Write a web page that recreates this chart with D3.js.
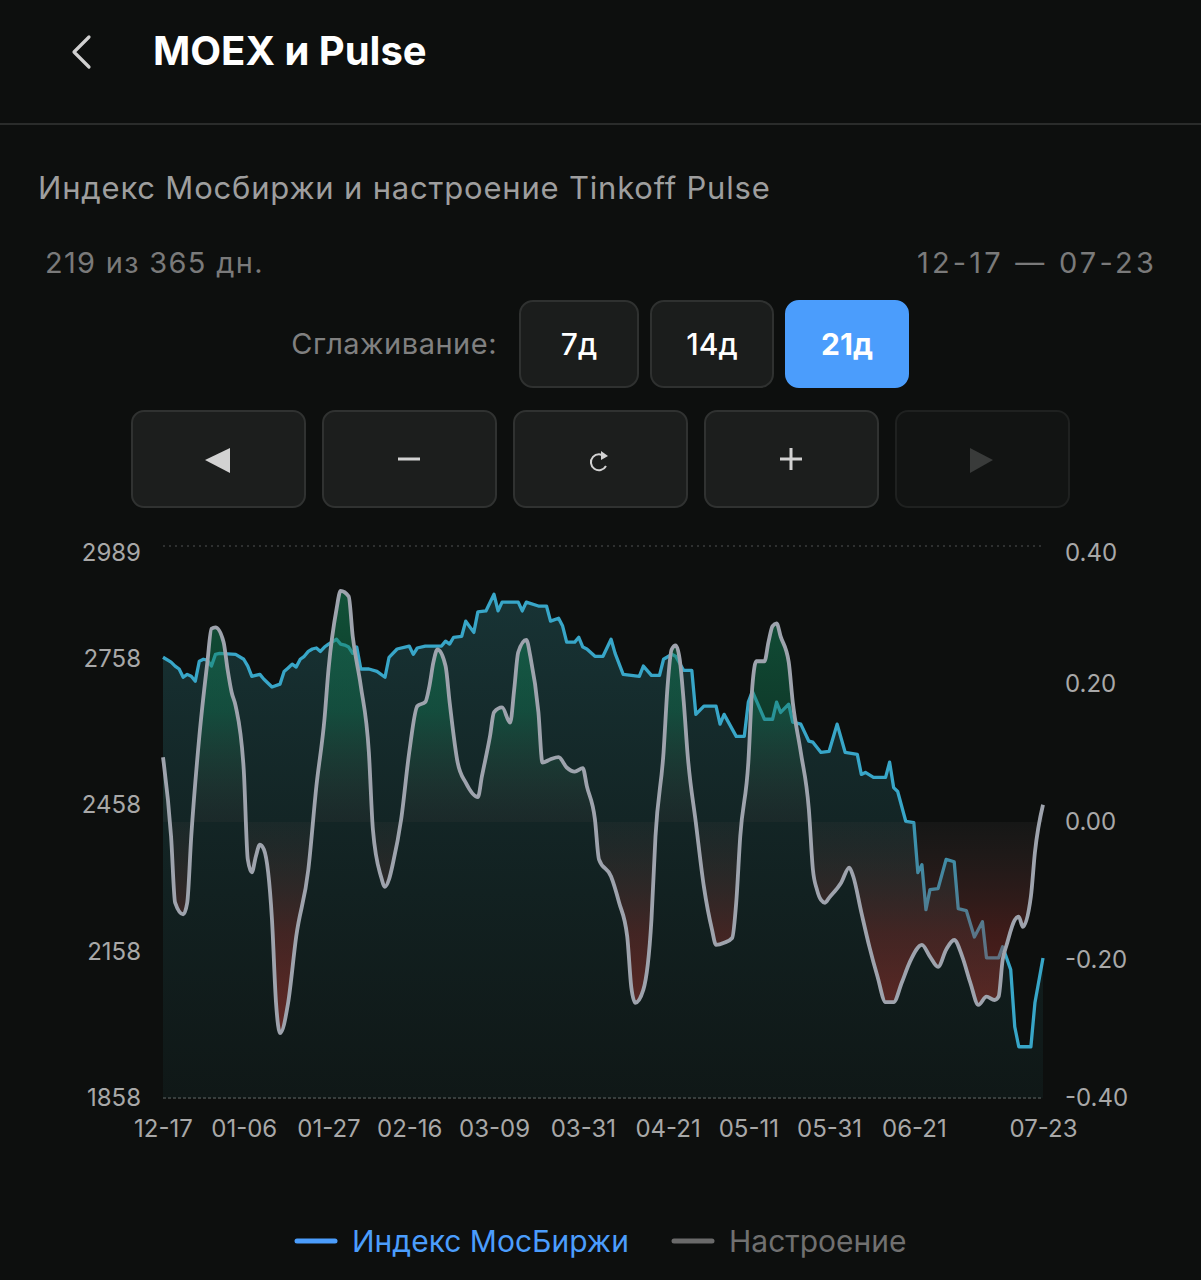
<!DOCTYPE html>
<html>
<head>
<meta charset="utf-8">
<script src="https://cdn.jsdelivr.net/npm/d3@7"></script>
<style>
  html, body { margin: 0; padding: 0; background: #0d0f0e; }
  svg { display: block; font-family: Inter, "Noto Sans", sans-serif; }
</style>
</head>
<body>
<svg id="chart" width="1201" height="1280"></svg>
<script>
// Data (days counted from 12-17)
const startDate = new Date(2022, 11, 17);

const moexDays = [0, 2, 3, 4, 5, 6, 7, 8, 9, 10, 11, 12, 13, 14, 18, 20, 21, 22, 24, 25, 27, 29, 30, 31, 32, 33, 34, 35, 36, 37, 38, 39, 40, 41, 43, 44, 45, 46, 47, 48, 49, 51, 53, 55, 56, 58, 61, 62, 63, 65, 69, 70, 71, 72, 74, 75, 77, 78, 80, 82, 83, 84, 88, 89, 90, 93, 95, 96, 98, 99, 100, 102, 103, 104, 105, 107, 109, 111, 112, 114, 116, 118, 119, 121, 123, 124, 126, 127, 129, 131, 132, 134, 137, 138, 139, 142, 144, 145, 146, 149, 151, 152, 153, 155, 156, 158, 160, 161, 163, 165, 167, 169, 172, 173, 174, 176, 179, 180, 181, 182, 184, 186, 187, 188, 189, 190, 192, 194, 196, 197, 199, 201, 203, 204, 207, 208, 210, 211, 212, 215, 216, 218];
const moexValues = [2761, 2751, 2743, 2737, 2720, 2726, 2722, 2712, 2753, 2757, 2755, 2743, 2767, 2769, 2767, 2757, 2743, 2722, 2726, 2716, 2700, 2706, 2732, 2739, 2747, 2741, 2757, 2763, 2773, 2778, 2780, 2773, 2782, 2788, 2798, 2788, 2786, 2782, 2769, 2782, 2737, 2737, 2732, 2720, 2761, 2778, 2784, 2767, 2780, 2784, 2784, 2794, 2788, 2802, 2804, 2835, 2812, 2854, 2856, 2890, 2856, 2874, 2874, 2856, 2874, 2866, 2866, 2835, 2841, 2825, 2792, 2792, 2802, 2782, 2778, 2763, 2763, 2798, 2769, 2726, 2724, 2722, 2743, 2724, 2724, 2757, 2767, 2763, 2734, 2734, 2644, 2661, 2661, 2624, 2644, 2599, 2599, 2669, 2691, 2634, 2634, 2669, 2648, 2665, 2628, 2624, 2589, 2587, 2566, 2568, 2624, 2566, 2562, 2521, 2525, 2515, 2515, 2546, 2494, 2486, 2425, 2422, 2320, 2336, 2244, 2285, 2287, 2347, 2342, 2246, 2242, 2188, 2219, 2145, 2145, 2168, 2121, 2004, 1963, 1963, 2053, 2145];

const moodDays = [0, 2, 3, 5, 6, 7, 9, 11, 12, 13, 15, 16, 17, 18, 20, 21, 22, 23, 24, 25, 27, 28, 29, 31, 33, 36, 38, 40, 41, 43, 44, 46, 47, 49, 51, 52, 54, 55, 56, 57, 59, 61, 63, 65, 66, 67, 68, 70, 71, 73, 75, 78, 79, 81, 82, 84, 86, 87, 88, 90, 91, 93, 94, 96, 98, 100, 102, 104, 105, 107, 108, 111, 113, 115, 116, 117, 119, 121, 122, 124, 125, 126, 127, 128, 129, 130, 132, 134, 136, 137, 139, 141, 142, 143, 145, 146, 147, 149, 150, 151, 152, 153, 155, 156, 158, 160, 161, 162, 163, 164, 165, 168, 170, 171, 173, 175, 177, 179, 181, 183, 185, 188, 190, 192, 194, 196, 198, 200, 202, 204, 206, 207, 208, 209, 211, 212, 213, 215, 216, 218];
const moodValues = [0.094, -0.021, -0.117, -0.134, -0.117, -0.021, 0.124, 0.232, 0.280, 0.282, 0.261, 0.221, 0.188, 0.168, 0.076, -0.054, -0.073, -0.050, -0.033, -0.040, -0.142, -0.262, -0.306, -0.262, -0.166, -0.069, 0.052, 0.149, 0.221, 0.309, 0.335, 0.327, 0.269, 0.197, 0.101, -0.011, -0.079, -0.094, -0.083, -0.059, 0.004, 0.101, 0.168, 0.174, 0.197, 0.232, 0.250, 0.226, 0.174, 0.086, 0.057, 0.036, 0.066, 0.124, 0.159, 0.166, 0.144, 0.192, 0.246, 0.264, 0.240, 0.159, 0.086, 0.091, 0.094, 0.079, 0.073, 0.078, 0.052, 0.004, -0.054, -0.079, -0.117, -0.166, -0.239, -0.262, -0.243, -0.142, -0.021, 0.101, 0.197, 0.250, 0.256, 0.236, 0.174, 0.095, -0.001, -0.094, -0.156, -0.178, -0.175, -0.168, -0.117, -0.021, 0.086, 0.197, 0.233, 0.233, 0.261, 0.284, 0.288, 0.269, 0.232, 0.174, 0.101, 0.018, -0.069, -0.098, -0.113, -0.117, -0.110, -0.088, -0.066, -0.079, -0.131, -0.181, -0.224, -0.261, -0.261, -0.233, -0.203, -0.178, -0.195, -0.210, -0.185, -0.171, -0.195, -0.233, -0.265, -0.253, -0.258, -0.253, -0.200, -0.178, -0.142, -0.137, -0.152, -0.108, -0.044, 0.025];

const leftTicks = [1858, 2158, 2458, 2758, 2989];
const rightTicks = [-0.4, -0.2, 0, 0.2, 0.4];
const xTickLabels = ["12-17", "01-06", "01-27", "02-16", "03-09", "03-31", "04-21", "05-11", "05-31", "06-21", "07-23"];

// Layout
const plot = { left: 163, right: 1043, top: 546, bottom: 1098 };
const bg = "#0d0f0e";

const svg = d3.select("#chart");
svg.append("rect").attr("width", 1201).attr("height", 1280).attr("fill", bg);

// Header
svg.append("path")
    .attr("d", "M89,37 L74,52 L89,67")
    .attr("fill", "none")
    .attr("stroke", "#d0d0d0")
    .attr("stroke-width", 3.2)
    .attr("stroke-linecap", "round")
    .attr("stroke-linejoin", "round");

svg.append("text")
    .attr("x", 153).attr("y", 65)
    .attr("fill", "#ffffff")
    .attr("font-size", 40)
    .attr("font-weight", 700)
    .text("MOEX и Pulse");

svg.append("line")
    .attr("x1", 0).attr("x2", 1201)
    .attr("y1", 124).attr("y2", 124)
    .attr("stroke", "#2a2c2b").attr("stroke-width", 2);

svg.append("text")
    .attr("x", 38).attr("y", 199)
    .attr("fill", "#9e9e9e")
    .attr("font-size", 31)
    .attr("letter-spacing", 0.8)
    .text("Индекс Мосбиржи и настроение Tinkoff Pulse");

svg.append("text")
    .attr("x", 45).attr("y", 273)
    .attr("fill", "#7a7a7a")
    .attr("font-size", 29)
    .attr("letter-spacing", 1.3)
    .text("219 из 365 дн.");

svg.append("text")
    .attr("x", 1157).attr("y", 273)
    .attr("text-anchor", "end")
    .attr("fill", "#7a7a7a")
    .attr("font-size", 29)
    .attr("letter-spacing", 3.2)
    .text("12-17 — 07-23");

// Smoothing buttons
svg.append("text")
    .attr("x", 497).attr("y", 354)
    .attr("text-anchor", "end")
    .attr("fill", "#808080")
    .attr("font-size", 29)
    .attr("letter-spacing", 0.5)
    .text("Сглаживание:");

const smoothButtons = [
    { label: "7д", x: 520, w: 118, active: false },
    { label: "14д", x: 651, w: 122, active: false },
    { label: "21д", x: 786, w: 122, active: true }
];
smoothButtons.forEach(b => {
    svg.append("rect")
        .attr("x", b.x).attr("y", 301)
        .attr("width", b.w).attr("height", 86)
        .attr("rx", 13)
        .attr("fill", b.active ? "#4b9dfc" : "#1b1d1c")
        .attr("stroke", b.active ? "#4b9dfc" : "#2f3130")
        .attr("stroke-width", 2);
    svg.append("text")
        .attr("x", b.x + b.w / 2).attr("y", 355)
        .attr("text-anchor", "middle")
        .attr("fill", "#ffffff")
        .attr("font-size", 30)
        .attr("font-weight", b.active ? 700 : 500)
        .text(b.label);
});

// Navigation buttons
const navX = [132, 323, 514, 705, 896];
navX.forEach((x, i) => {
    svg.append("rect")
        .attr("x", x).attr("y", 411)
        .attr("width", 173).attr("height", 96)
        .attr("rx", 12)
        .attr("fill", i === 4 ? "#121413" : "#1c1e1d")
        .attr("stroke", i === 4 ? "#1f2120" : "#303231")
        .attr("stroke-width", 2);
});
const iconColor = "#d2d2d2";
svg.append("path").attr("d", "M205,460 L230,448 L230,473 Z").attr("fill", iconColor);
svg.append("line").attr("x1", 398).attr("x2", 420).attr("y1", 459).attr("y2", 459)
    .attr("stroke", iconColor).attr("stroke-width", 3);
svg.append("path")
    .attr("d", "M605,457 A8,8 0 1,0 606,466")
    .attr("fill", "none").attr("stroke", iconColor).attr("stroke-width", 2);
svg.append("path").attr("d", "M601,451 L608,456 L601,460 Z").attr("fill", iconColor);
svg.append("line").attr("x1", 780).attr("x2", 802).attr("y1", 459).attr("y2", 459)
    .attr("stroke", iconColor).attr("stroke-width", 3);
svg.append("line").attr("x1", 791).attr("x2", 791).attr("y1", 448).attr("y2", 470)
    .attr("stroke", iconColor).attr("stroke-width", 3);
svg.append("path").attr("d", "M993,460 L970,448 L970,473 Z").attr("fill", "#393b3a");

// Scales
const endDate = d3.timeDay.offset(startDate, 218);
const x = d3.scaleTime().domain([startDate, endDate]).range([plot.left, plot.right]);
const yL = d3.scaleLinear().domain([1858, 2989]).range([plot.bottom, plot.top]);
const yR = d3.scaleLinear().domain([-0.4, 0.4]).range([plot.bottom, plot.top]);

const moex = moexDays.map((d, i) => ({ date: d3.timeDay.offset(startDate, d), v: moexValues[i] }));
const mood = moodDays.map((d, i) => ({ date: d3.timeDay.offset(startDate, d), v: moodValues[i] }));

// Gradients
const defs = svg.append("defs");
const moexGrad = defs.append("linearGradient")
    .attr("id", "moexGrad")
    .attr("gradientUnits", "userSpaceOnUse")
    .attr("x1", 0).attr("x2", 0).attr("y1", plot.top).attr("y2", plot.bottom);
moexGrad.append("stop").attr("offset", 0).attr("stop-color", "#2a6e74").attr("stop-opacity", 0.42);
moexGrad.append("stop").attr("offset", 0.5).attr("stop-color", "#21585b").attr("stop-opacity", 0.3);
moexGrad.append("stop").attr("offset", 1).attr("stop-color", "#1c4646").attr("stop-opacity", 0.16);

const moodGrad = defs.append("linearGradient")
    .attr("id", "moodGrad")
    .attr("gradientUnits", "userSpaceOnUse")
    .attr("x1", 0).attr("x2", 0).attr("y1", plot.top).attr("y2", plot.bottom);
moodGrad.append("stop").attr("offset", 0).attr("stop-color", "#148c5c").attr("stop-opacity", 0.6);
moodGrad.append("stop").attr("offset", 0.3).attr("stop-color", "#127a54").attr("stop-opacity", 0.42);
moodGrad.append("stop").attr("offset", 0.5).attr("stop-color", "#444040").attr("stop-opacity", 0.16);
moodGrad.append("stop").attr("offset", 0.7).attr("stop-color", "#8a2e2a").attr("stop-opacity", 0.4);
moodGrad.append("stop").attr("offset", 1).attr("stop-color", "#b03a30").attr("stop-opacity", 0.7);

// Grid lines (top and bottom)
svg.append("line")
    .attr("x1", plot.left).attr("x2", plot.right)
    .attr("y1", plot.top).attr("y2", plot.top)
    .attr("stroke", "#3a3d3c").attr("stroke-width", 1.5)
    .attr("stroke-dasharray", "2,4");
svg.append("line")
    .attr("x1", plot.left).attr("x2", plot.right)
    .attr("y1", plot.bottom).attr("y2", plot.bottom)
    .attr("stroke", "#4a4d4c").attr("stroke-width", 1.5)
    .attr("stroke-dasharray", "3,2");

// MOEX area + line
svg.append("path")
    .datum(moex)
    .attr("fill", "url(#moexGrad)")
    .attr("d", d3.area()
        .x(d => x(d.date))
        .y0(plot.bottom)
        .y1(d => yL(d.v)));

svg.append("path")
    .datum(moex)
    .attr("fill", "none")
    .attr("stroke", "#38a6c8")
    .attr("stroke-width", 3.3)
    .attr("stroke-linejoin", "round")
    .attr("d", d3.line()
        .x(d => x(d.date))
        .y(d => yL(d.v)));

// Mood area (between zero and mood) + line
svg.append("path")
    .datum(mood)
    .attr("fill", "url(#moodGrad)")
    .attr("d", d3.area()
        .x(d => x(d.date))
        .y0(yR(0))
        .y1(d => yR(d.v))
        .curve(d3.curveMonotoneX));

svg.append("path")
    .datum(mood)
    .attr("fill", "none")
    .attr("stroke", "#9ea3ad")
    .attr("stroke-width", 3.8)
    .attr("stroke-linejoin", "round")
    .attr("d", d3.line()
        .x(d => x(d.date))
        .y(d => yR(d.v))
        .curve(d3.curveMonotoneX));

// Axes
const axisColor = "#a8a8a8";
const leftAxis = svg.append("g")
    .attr("transform", `translate(${plot.left},0)`)
    .call(d3.axisLeft(yL).tickValues(leftTicks).tickSize(0).tickPadding(22).tickFormat(d3.format("d")));
const rightAxis = svg.append("g")
    .attr("transform", `translate(${plot.right},0)`)
    .call(d3.axisRight(yR).tickValues(rightTicks).tickSize(0).tickPadding(22).tickFormat(d3.format(".2f")));

const xTickDates = xTickLabels.map(s => {
    const [m, d] = s.split("-").map(Number);
    return new Date(m === 12 ? 2022 : 2023, m - 1, d);
});
const bottomAxis = svg.append("g")
    .attr("transform", `translate(0,${plot.bottom})`)
    .call(d3.axisBottom(x).tickValues(xTickDates).tickSize(0).tickPadding(22).tickFormat(d3.timeFormat("%m-%d")));

[leftAxis, rightAxis, bottomAxis].forEach(g => {
    g.select(".domain").remove();
    g.selectAll("text")
        .attr("fill", axisColor)
        .attr("font-size", 24)
        .attr("font-family", "Inter, 'Noto Sans', sans-serif");
});
leftAxis.selectAll(".tick").filter(d => d === 2989).select("text").attr("dy", "0.6em");
rightAxis.selectAll(".tick").filter(d => d === 0.4).select("text").attr("dy", "0.6em");
rightAxis.selectAll("text").text(d => d3.format(".2f")(d).replace("−", "-"));

// Legend
svg.append("line")
    .attr("x1", 297).attr("x2", 335).attr("y1", 1241).attr("y2", 1241)
    .attr("stroke", "#4b9dfc").attr("stroke-width", 5).attr("stroke-linecap", "round");
svg.append("text")
    .attr("x", 352).attr("y", 1252)
    .attr("fill", "#4b9dfc").attr("font-size", 30)
    .text("Индекс МосБиржи");
svg.append("line")
    .attr("x1", 674).attr("x2", 712).attr("y1", 1241).attr("y2", 1241)
    .attr("stroke", "#6a6a6a").attr("stroke-width", 5).attr("stroke-linecap", "round");
svg.append("text")
    .attr("x", 729).attr("y", 1252)
    .attr("fill", "#707070").attr("font-size", 30)
    .text("Настроение");
</script>
</body>
</html>
